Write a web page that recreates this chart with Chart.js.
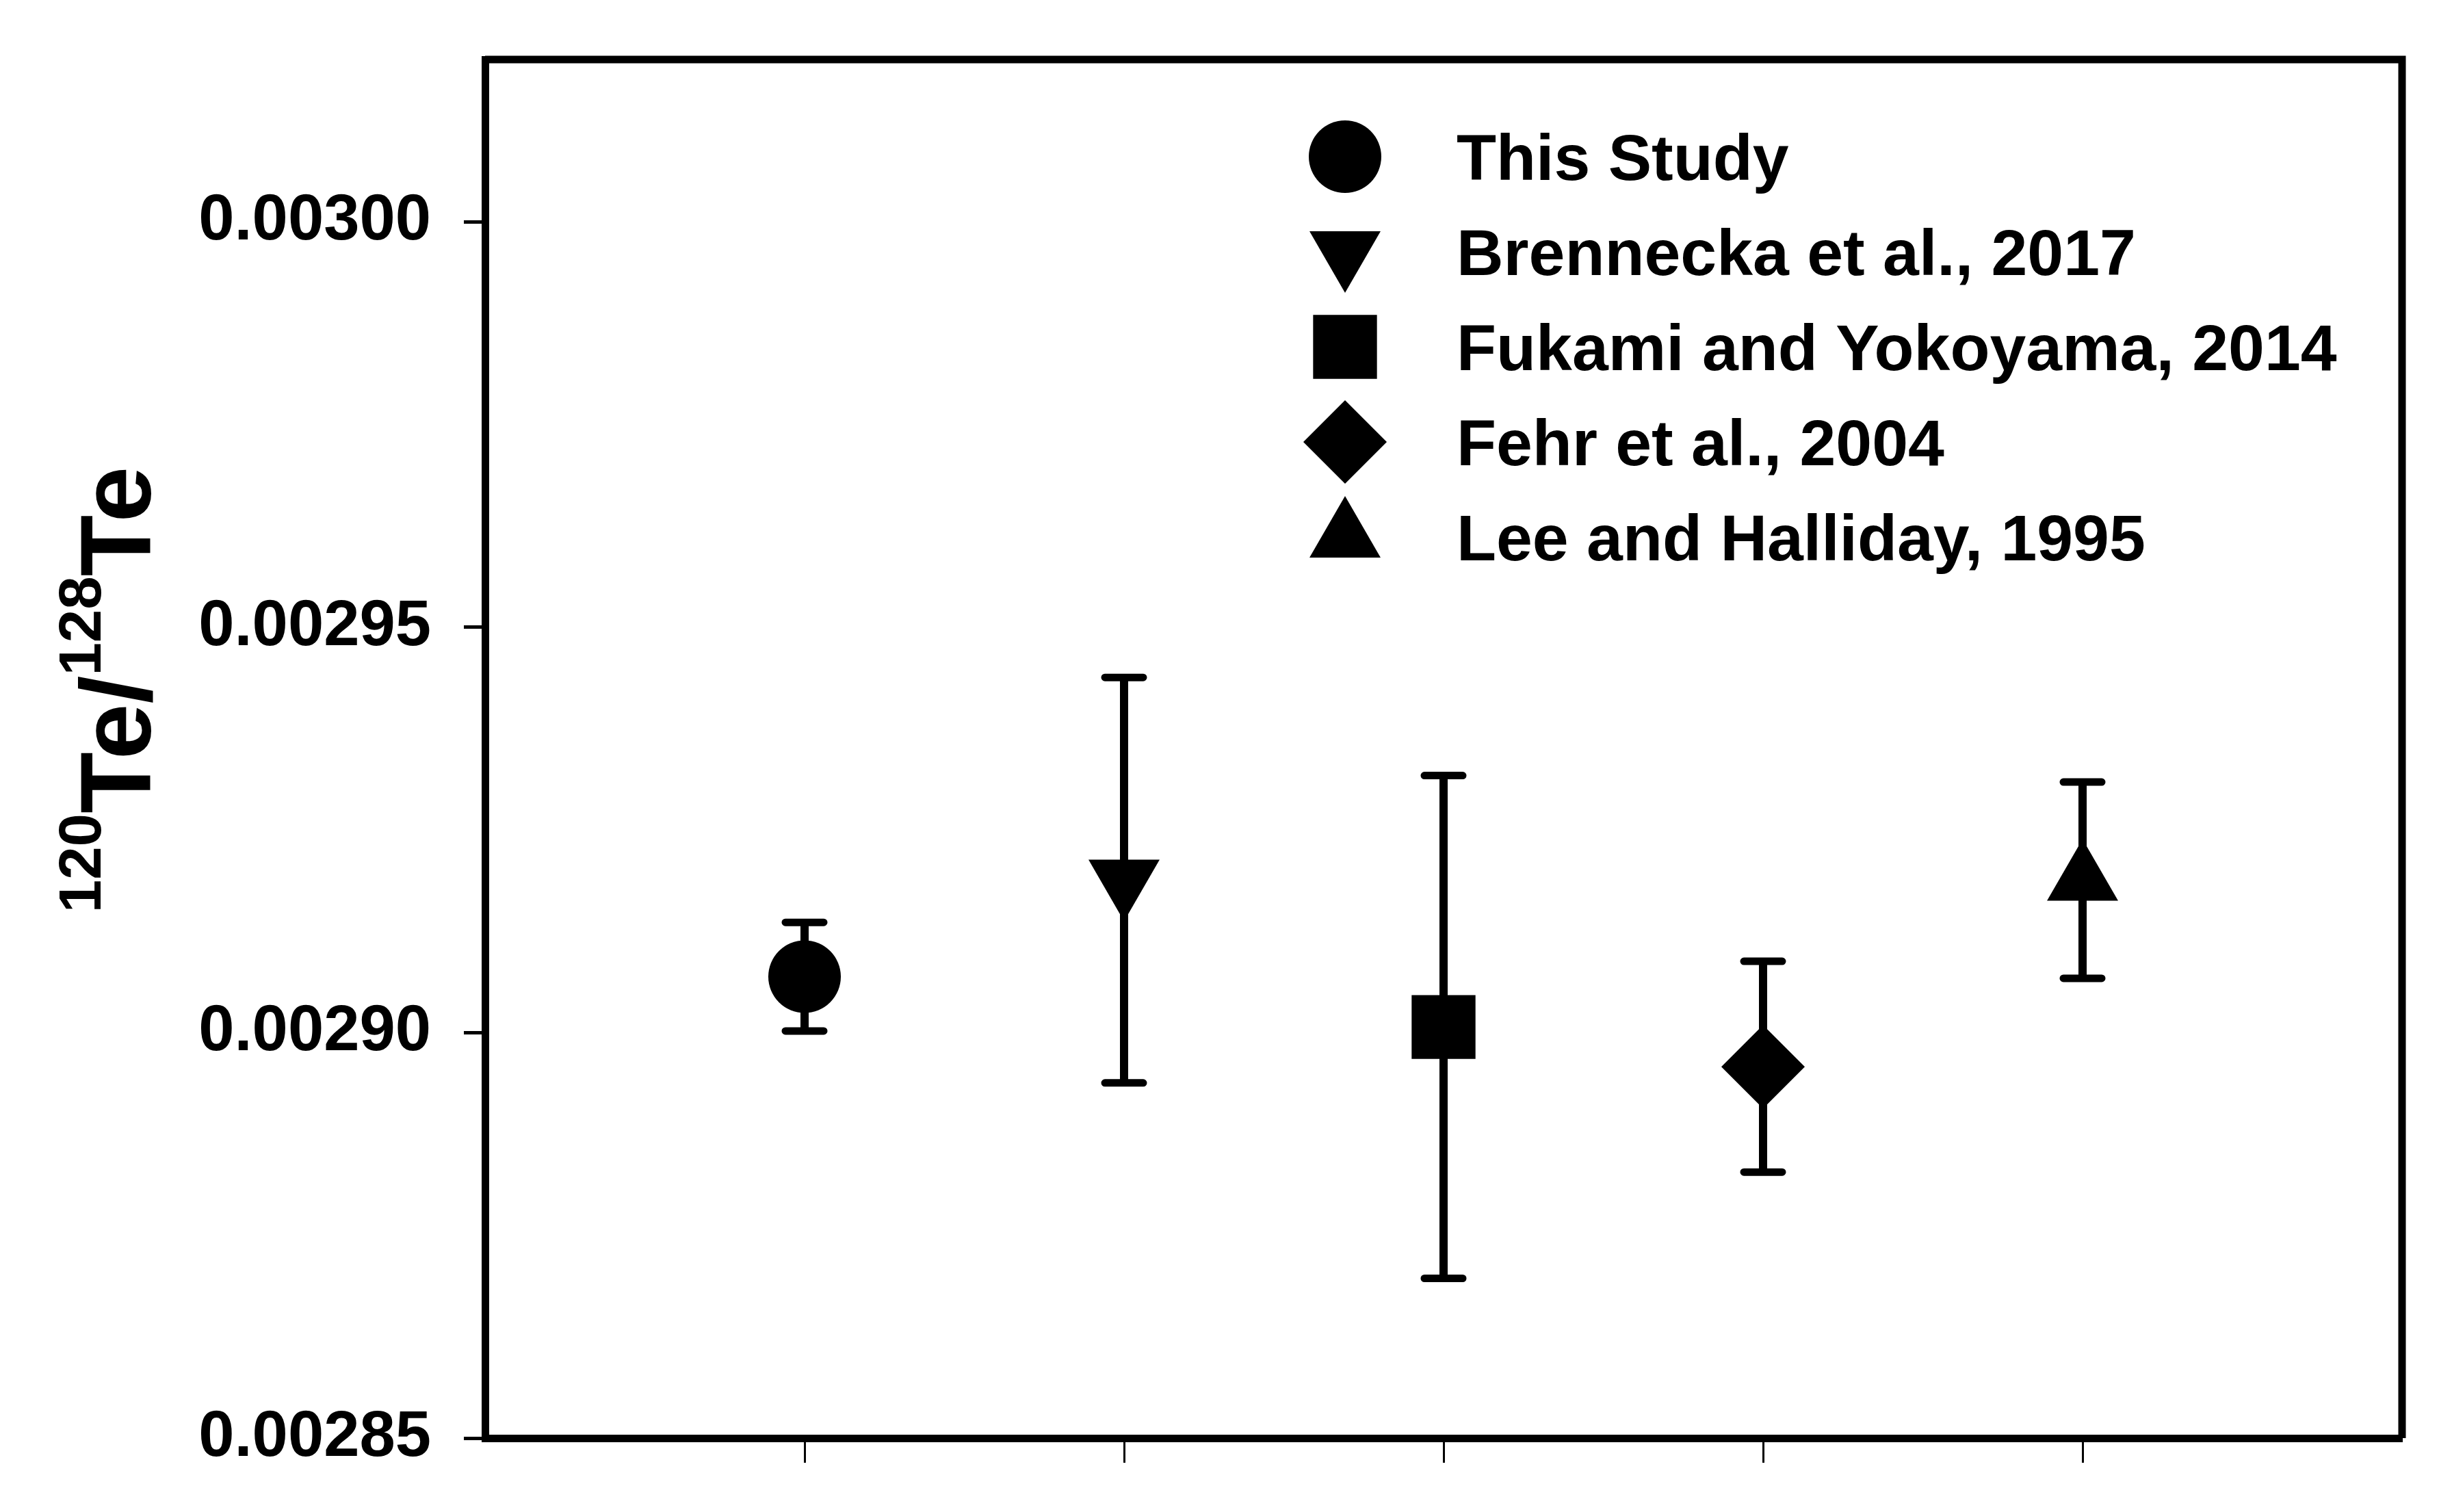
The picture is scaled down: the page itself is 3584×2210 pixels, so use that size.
<!DOCTYPE html>
<html>
<head>
<meta charset="utf-8">
<script src="https://cdn.jsdelivr.net/npm/chart.js@4/dist/chart.umd.min.js"></script>
<style>
  html, body { margin: 0; padding: 0; background: #ffffff; }
  #wrap { width: 3584px; height: 2210px; }
</style>
</head>
<body>
<div id="wrap"><canvas id="c" width="3584" height="2210"></canvas></div>
<script>
// ---- data ----
const seriesLabels = ['This Study', 'Brennecka et al., 2017', 'Fukami and Yokoyama, 2014', 'Fehr et al., 2004', 'Lee and Halliday, 1995'];
const xPositions   = [1, 2, 3, 4, 5];
const ratioValues  = [0.0029069, 0.0029188, 0.0029007, 0.0028958, 0.0029188];
const ratioErrors  = [0.0000067, 0.0000250, 0.0000310, 0.0000130, 0.0000121];
const yTickValues  = [0.00285, 0.00290, 0.00295, 0.00300];
const yTickLabels  = ['0.00285', '0.00290', '0.00295', '0.00300'];
const xTickValues  = [1, 2, 3, 4, 5];

// ---- styles ----
const markerStyles   = ['circle', 'triangle', 'rect', 'rectRot', 'triangle'];
const markerRotation = [0, 180, 0, 0, 0];
const markerRadius   = [53, 60, 66, 61, 60];
const FONT = "'Liberation Sans', Arial, Helvetica, sans-serif";

const datasets = seriesLabels.map((lab, i) => ({
  label: lab,
  data: [{ x: xPositions[i], y: ratioValues[i] }],
  pointStyle: markerStyles[i],
  rotation: markerRotation[i],
  pointRadius: markerRadius[i],
  pointBackgroundColor: '#000',
  pointBorderColor: '#000',
  pointBorderWidth: 0,
  showLine: false
}));

function drawShape(ctx, style, rotation, radius, x, y) {
  if (Chart.helpers && Chart.helpers.drawPoint) {
    Chart.helpers.drawPoint(ctx, { pointStyle: style, rotation: rotation, radius: radius, borderWidth: 0 }, x, y);
    return;
  }
  ctx.beginPath();
  if (style === 'circle') {
    ctx.arc(x, y, radius, 0, Math.PI * 2);
  } else if (style === 'rect') {
    const s = Math.SQRT1_2 * radius;
    ctx.rect(x - s, y - s, 2 * s, 2 * s);
  } else if (style === 'rectRot') {
    ctx.moveTo(x - radius, y); ctx.lineTo(x, y - radius); ctx.lineTo(x + radius, y); ctx.lineTo(x, y + radius);
  } else {
    let rad = rotation * Math.PI / 180;
    for (let k = 0; k < 3; k++) {
      const px = x + Math.sin(rad) * radius, py = y - Math.cos(rad) * radius;
      if (k === 0) ctx.moveTo(px, py); else ctx.lineTo(px, py);
      rad += 2 * Math.PI / 3;
    }
  }
  ctx.closePath();
  ctx.fill();
}

const errorBarPlugin = {
  id: 'errorBars',
  beforeDatasetsDraw(chart) {
    const ctx = chart.ctx;
    const xs = chart.scales.x, ys = chart.scales.y;
    ctx.save();
    ctx.strokeStyle = '#000';
    ratioValues.forEach((v, i) => {
      const px = xs.getPixelForValue(xPositions[i]);
      const pTop = ys.getPixelForValue(v + ratioErrors[i]);
      const pBot = ys.getPixelForValue(v - ratioErrors[i]);
      ctx.lineCap = 'butt';
      ctx.lineWidth = 12;
      ctx.beginPath();
      ctx.moveTo(px, pTop); ctx.lineTo(px, pBot);
      ctx.stroke();
      ctx.lineCap = 'round';
      ctx.lineWidth = 11;
      ctx.beginPath();
      ctx.moveTo(px - 28, pTop); ctx.lineTo(px + 28, pTop);
      ctx.moveTo(px - 28, pBot); ctx.lineTo(px + 28, pBot);
      ctx.stroke();
    });
    ctx.restore();
  }
};

const framePlugin = {
  id: 'frame',
  afterDraw(chart) {
    const ctx = chart.ctx;
    const a = chart.chartArea;
    ctx.save();
    ctx.strokeStyle = '#000';
    ctx.lineWidth = 11;
    ctx.lineJoin = 'miter';
    ctx.beginPath();
    ctx.moveTo(a.left, a.top); ctx.lineTo(a.right, a.top); ctx.lineTo(a.right, a.bottom);
    ctx.stroke();
    ctx.restore();
  }
};

const legendPlugin = {
  id: 'customLegend',
  afterDraw(chart) {
    const ctx = chart.ctx;
    const a = chart.chartArea;
    const symX = a.left + 1257;
    const textX = a.left + 1420;
    const firstY = a.top + 142;
    const step = 139;
    ctx.save();
    ctx.fillStyle = '#000';
    ctx.font = 'bold 95px ' + FONT;
    ctx.textAlign = 'left';
    ctx.textBaseline = 'alphabetic';
    seriesLabels.forEach((lab, i) => {
      const cy = firstY + i * step;
      drawShape(ctx, markerStyles[i], markerRotation[i], markerRadius[i], symX, cy);
      ctx.fillText(lab, textX, cy + 34);
    });
    ctx.restore();
  }
};

const yTitlePlugin = {
  id: 'yTitle',
  afterDraw(chart) {
    const ctx = chart.ctx;
    const parts = [
      { t: '120', sup: true }, { t: 'Te/', sup: false },
      { t: '128', sup: true }, { t: 'Te', sup: false }
    ];
    const bigFont = 'bold 147px ' + FONT;
    const supFont = 'bold 87px ' + FONT;
    ctx.save();
    let total = 0;
    parts.forEach(p => { ctx.font = p.sup ? supFont : bigFont; p.w = ctx.measureText(p.t).width; total += p.w; });
    ctx.translate(220, 1008);
    ctx.rotate(-Math.PI / 2);
    ctx.fillStyle = '#000';
    ctx.textBaseline = 'alphabetic';
    ctx.textAlign = 'left';
    let x = -total / 2;
    parts.forEach(p => {
      ctx.font = p.sup ? supFont : bigFont;
      ctx.fillText(p.t, x, p.sup ? -73 : 0);
      x += p.w;
    });
    ctx.restore();
  }
};

new Chart(document.getElementById('c'), {
  type: 'scatter',
  data: { datasets: datasets },
  options: {
    responsive: false,
    devicePixelRatio: 1,
    animation: false,
    events: [],
    layout: { padding: { top: 87, right: 73, left: 0, bottom: 0 } },
    plugins: { legend: { display: false }, tooltip: { enabled: false }, title: { display: false } },
    scales: {
      x: {
        type: 'linear', min: 0, max: 6,
        afterBuildTicks: s => { s.ticks = xTickValues.map(v => ({ value: v })); },
        afterFit: s => { s.height = 2210 - 2102; s.paddingLeft = 0; s.paddingRight = 0; },
        grid: { drawOnChartArea: false, drawTicks: true, tickLength: 36, tickWidth: 3, tickColor: '#000' },
        border: { display: true, color: '#000', width: 11 },
        ticks: { callback: () => '', padding: 0 }
      },
      y: {
        type: 'linear', min: 0.00285, max: 0.00302,
        afterBuildTicks: s => { s.ticks = yTickValues.map(v => ({ value: v })); },
        afterFit: s => { s.width = 709; s.paddingTop = 0; s.paddingBottom = 0; },
        grid: { drawOnChartArea: false, drawTicks: true, tickLength: 31, tickWidth: 5, tickColor: '#000' },
        border: { display: true, color: '#000', width: 11 },
        ticks: {
          color: '#000',
          padding: 48,
          font: { family: FONT, size: 94, weight: 'bold' },
          callback: (v) => { const k = yTickValues.findIndex(t => Math.abs(t - v) < 1e-9); return k >= 0 ? yTickLabels[k] : ''; }
        }
      }
    }
  },
  plugins: [errorBarPlugin, framePlugin, legendPlugin, yTitlePlugin]
});
</script>
</body>
</html>
